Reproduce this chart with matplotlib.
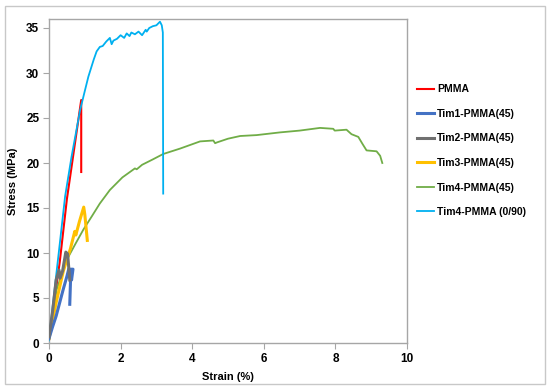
import matplotlib.pyplot as plt
from matplotlib.patches import Rectangle

plt.rcParams['font.family'] = ['Liberation Sans', 'DejaVu Sans']

# strain (%) / stress (MPa)
pmma_x = [0.0, 0.1, 0.3, 0.5, 0.7, 0.9, 0.9]
pmma_y = [0.3, 3.2, 9.0, 16.0, 21.5, 27.0, 19.0]

tim1_x = [0.0, 0.1, 0.2, 0.4, 0.5, 0.55, 0.67, 0.63, 0.61, 0.58]
tim1_y = [0.5, 1.8, 3.0, 6.0, 7.4, 8.2, 8.2, 7.0, 8.0, 4.3]

tim2_x = [0.0, 0.1, 0.2, 0.28, 0.31, 0.38, 0.47, 0.52, 0.58]
tim2_y = [0.7, 3.5, 7.0, 8.1, 7.2, 8.0, 10.1, 9.9, 7.0]

tim3_x = [0.0, 0.2, 0.4, 0.6, 0.72, 0.75, 0.85, 0.97, 1.0, 1.07]
tim3_y = [0.5, 4.5, 8.0, 10.5, 12.4, 12.0, 13.5, 15.1, 14.3, 11.4]

tim4_x = [0.0, 0.03, 0.21, 0.49, 0.75, 0.96, 1.2, 1.42, 1.7, 2.05, 2.4,
          2.45, 2.6, 2.9, 3.19, 3.66, 4.22, 4.59, 4.64, 4.7, 5.0, 5.34,
          5.8, 6.45, 7.0, 7.57, 7.94, 7.98, 8.31, 8.45, 8.64, 8.76, 8.87,
          9.15, 9.25, 9.31]
tim4_y = [0.3, 0.8, 5.9, 9.2, 11.1, 12.6, 14.1, 15.5, 17.0, 18.4, 19.4,
          19.3, 19.8, 20.4, 21.0, 21.6, 22.4, 22.5, 22.2, 22.3, 22.7, 23.0,
          23.1, 23.4, 23.6, 23.9, 23.8, 23.6, 23.7, 23.2, 22.9, 22.1, 21.4,
          21.3, 20.8, 20.0]

tim4_090_x = [0.0, 0.1, 0.2, 0.3, 0.45, 0.63, 0.87, 1.0, 1.1, 1.25, 1.33,
              1.42, 1.5, 1.6, 1.7, 1.75, 1.8, 1.9, 2.0, 2.1, 2.17, 2.25, 2.3,
              2.4, 2.5, 2.6, 2.7, 2.73, 2.8, 2.9, 3.0, 3.05, 3.1, 3.15, 3.18,
              3.19]
tim4_090_y = [0.3, 4.0, 7.5, 11.0, 16.3, 20.7, 25.9, 28.0, 29.6, 31.5, 32.4,
              32.9, 33.0, 33.5, 33.9, 33.2, 33.6, 33.8, 34.2, 33.9, 34.4, 34.1,
              34.5, 34.3, 34.6, 34.2, 34.8, 34.6, 35.0, 35.2, 35.3, 35.5, 35.7,
              35.3, 34.5, 16.6]

x_ticks = [0, 2, 4, 6, 8, 10]
y_ticks = [0, 5, 10, 15, 20, 25, 30, 35]

fig = plt.figure(figsize=(5.5, 3.9), dpi=100)
fig.patches.append(Rectangle((5 / 550, 6 / 390), 540 / 550, 378 / 390,
                             transform=fig.transFigure, fill=False,
                             edgecolor='#c8c8c8', linewidth=1.0))
ax = fig.add_axes([49 / 550, 47 / 390, 358 / 550, 324 / 390])

ax.plot(tim4_090_x, tim4_090_y, color='#00B0F0', lw=1.3, label='Tim4-PMMA (0/90)', zorder=3)
ax.plot(pmma_x, pmma_y, color='#FF0000', lw=1.5, label='PMMA', zorder=2)
ax.plot(tim4_x, tim4_y, color='#70AD47', lw=1.3, label='Tim4-PMMA(45)', zorder=2)
ax.plot(tim3_x, tim3_y, color='#FFC000', lw=2.2, label='Tim3-PMMA(45)', zorder=4)
ax.plot(tim1_x, tim1_y, color='#4472C4', lw=2.2, label='Tim1-PMMA(45)', zorder=5)
ax.plot(tim2_x, tim2_y, color='#707070', lw=2.2, label='Tim2-PMMA(45)', zorder=6)

ax.set_xlim(0, 10)
ax.set_ylim(0, 36)
ax.set_xticks(x_ticks)
ax.set_yticks(y_ticks)
for sp in ax.spines.values():
    sp.set_color('#a6a6a6')
    sp.set_linewidth(1.0)
ax.tick_params(direction='out', length=4, color='#a6a6a6', labelsize=8.5,
               pad=3)
for lbl in ax.get_xticklabels() + ax.get_yticklabels():
    lbl.set_fontweight('bold')
ax.set_xlabel('Strain (%)', fontsize=8, fontweight='bold', labelpad=5)
ax.set_ylabel('Stress (MPa)', fontsize=8, fontweight='bold', labelpad=6)

handles, labels = ax.get_legend_handles_labels()
order = ['PMMA', 'Tim1-PMMA(45)', 'Tim2-PMMA(45)', 'Tim3-PMMA(45)',
         'Tim4-PMMA(45)', 'Tim4-PMMA (0/90)']
hmap = dict(zip(labels, handles))
leg = fig.legend([hmap[k] for k in order], order, loc='upper left',
                 bbox_to_anchor=(412 / 550, 1 - 79 / 390), frameon=False,
                 prop={'size': 7.5, 'weight': 'bold'}, labelspacing=1.4,
                 handlelength=1.6, handletextpad=0.3, borderpad=0)

fig.savefig('out.png', dpi=100)
